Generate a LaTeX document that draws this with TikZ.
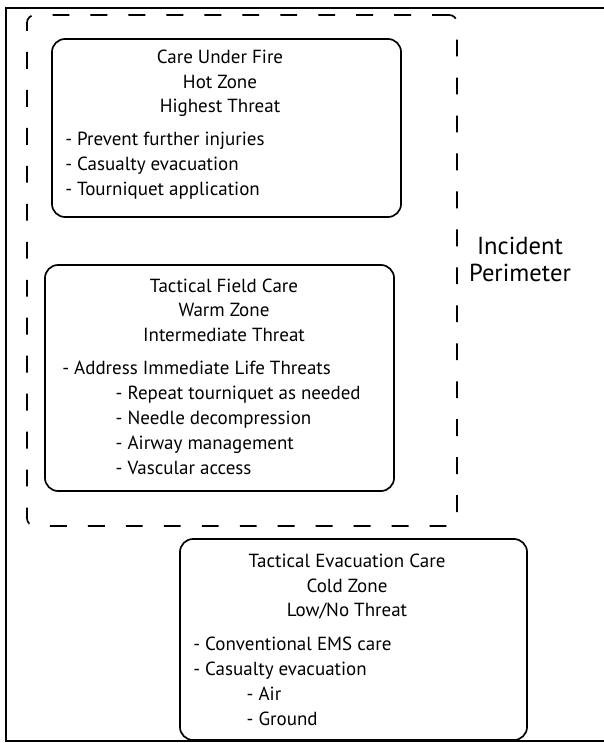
\documentclass[tikz,border=0pt]{standalone}
\usepackage{fontspec}
\setmainfont{PT Sans}
\usepackage{tikz}
\tikzstyle{zone box}=[draw=black, line width=1.2pt, rounded corners=0.33cm, inner sep=0pt, fill=none]
\tikzstyle{perimeter box}=[draw=black, line width=1.2pt, dash pattern=on 12pt off 15pt, rounded corners=0.2cm, inner sep=0pt]
\tikzstyle{title text}=[align=center, inner sep=0pt, font=\fontsize{13.5}{17.4}\selectfont]
\tikzstyle{item text}=[align=left, anchor=west, inner sep=0pt, font=\fontsize{13.5}{17.8}\selectfont]
\tikzstyle{label text}=[align=center, inner sep=0pt, font=\fontsize{17.5}{19.2}\selectfont]
\pgfdeclarelayer{nodelayer}
\pgfdeclarelayer{edgelayer}
\pgfsetlayers{edgelayer,nodelayer}
\newcommand{\zoneindent}{\hspace*{38pt}}

\begin{document}
\begin{tikzpicture}[x=0.025cm, y=-0.025cm]
	\useasboundingbox (0, 0) rectangle (604, 743);
	\begin{pgfonlayer}{edgelayer}
		\draw [line width=1pt] (606, 8) -- (6, 8) -- (6, 741) -- (606, 741);
		\node [style=perimeter box, minimum width=10.75cm, minimum height=12.775cm] (p) at (242, 270.5) {};
		\node [style=zone box, minimum width=8.725cm, minimum height=4.45cm] (0) at (226.5, 128) {};
		\node [style=zone box, minimum width=8.725cm, minimum height=5.65cm] (1) at (219.5, 378) {};
		\node [style=zone box, minimum width=8.675cm, minimum height=5.025cm] (2) at (353.5, 639.5) {};
	\end{pgfonlayer}
	\begin{pgfonlayer}{nodelayer}
		\node [style=title text] (0t) at (220, 83.5) {Care Under Fire\\Hot Zone\\Highest Threat};
		\node [style=item text] (0i) at (65, 166) {- Prevent further injuries\\- Casualty evacuation\\- Tourniquet application};
		\node [style=title text] (1t) at (224, 310) {Tactical Field Care\\Warm Zone\\Intermediate Threat};
		\node [style=item text] (1i) at (62, 418) {- Address Immediate Life Threats\\\zoneindent- Repeat tourniquet as needed\\\zoneindent- Needle decompression\\\zoneindent- Airway management\\\zoneindent- Vascular access};
		\node [style=title text] (2t) at (347, 587) {Tactical Evacuation Care\\Cold Zone\\Low/No Threat};
		\node [style=item text] (2i) at (193, 681) {- Conventional EMS care\\- Casualty evacuation\\\zoneindent- Air\\\zoneindent- Ground};
		\node [style=label text] (pl) at (520, 259.5) {Incident\\Perimeter};
	\end{pgfonlayer}
\end{tikzpicture}
\end{document}
